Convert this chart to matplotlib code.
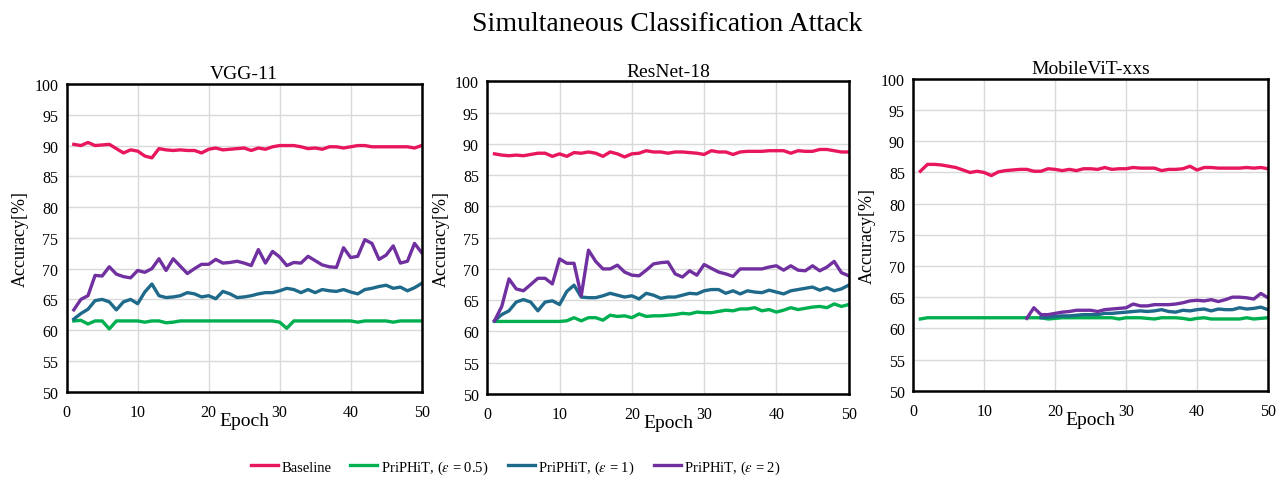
import numpy as np
import matplotlib
matplotlib.use("Agg")
import matplotlib.pyplot as plt

plt.rcParams['font.family'] = ['Liberation Serif', 'DejaVu Serif']
plt.rcParams['mathtext.fontset'] = 'stix'

epochs = np.arange(1, 51)
nan = np.nan

# VGG-11
vgg_base = [90.2, 90.0, 90.5, 90.0, 90.1, 90.2, 89.5, 88.8, 89.3, 89.1,
            88.3, 88.0, 89.5, 89.3, 89.2, 89.3, 89.2, 89.2, 88.8, 89.4,
            89.6, 89.3, 89.4, 89.5, 89.6, 89.2, 89.6, 89.4, 89.8, 90.0,
            90.0, 90.0, 89.8, 89.5, 89.6, 89.4, 89.8, 89.8, 89.6, 89.8,
            90.0, 90.0, 89.8, 89.8, 89.8, 89.8, 89.8, 89.8, 89.6, 90.0]
vgg_e05 = [61.5, 61.6, 61.0, 61.5, 61.5, 60.2, 61.5, 61.5, 61.5, 61.5,
           61.3, 61.5, 61.5, 61.2, 61.3, 61.5, 61.5, 61.5, 61.5, 61.5,
           61.5, 61.5, 61.5, 61.5, 61.5, 61.5, 61.5, 61.5, 61.5, 61.3,
           60.3, 61.5, 61.5, 61.5, 61.5, 61.5, 61.5, 61.5, 61.5, 61.5,
           61.3, 61.5, 61.5, 61.5, 61.5, 61.3, 61.5, 61.5, 61.5, 61.5]
vgg_e1 = [61.8, 62.7, 63.4, 64.8, 65.0, 64.6, 63.3, 64.6, 65.0, 64.3,
          66.2, 67.5, 65.6, 65.3, 65.4, 65.6, 66.1, 65.9, 65.4, 65.6,
          65.1, 66.3, 65.9, 65.3, 65.4, 65.6, 65.9, 66.1, 66.1, 66.4,
          66.8, 66.6, 66.1, 66.6, 66.1, 66.6, 66.4, 66.3, 66.6, 66.2,
          65.9, 66.6, 66.8, 67.1, 67.3, 66.8, 67.0, 66.4, 66.9, 67.6]
vgg_e2 = [63.3, 65.0, 65.6, 68.9, 68.8, 70.3, 69.1, 68.7, 68.5, 69.7,
          69.4, 70.0, 71.6, 69.7, 71.6, 70.4, 69.2, 70.0, 70.7, 70.7,
          71.5, 70.9, 71.0, 71.2, 70.9, 70.5, 73.1, 70.9, 72.8, 71.9,
          70.5, 71.0, 70.9, 72.0, 71.3, 70.6, 70.3, 70.2, 73.4, 71.8,
          72.0, 74.7, 74.1, 71.5, 72.2, 73.7, 70.9, 71.2, 74.1, 72.6]

# ResNet-18
res_base = [88.4, 88.2, 88.1, 88.2, 88.1, 88.3, 88.5, 88.5, 88.0, 88.4,
            88.0, 88.6, 88.5, 88.7, 88.5, 88.0, 88.7, 88.4, 87.9, 88.4,
            88.5, 88.9, 88.7, 88.7, 88.5, 88.7, 88.7, 88.6, 88.5, 88.3,
            88.9, 88.7, 88.7, 88.3, 88.7, 88.8, 88.8, 88.8, 88.9, 88.9,
            88.9, 88.5, 88.9, 88.8, 88.8, 89.1, 89.1, 88.9, 88.7, 88.7]
res_e05 = [61.6, 61.6, 61.6, 61.6, 61.6, 61.6, 61.6, 61.6, 61.6, 61.6,
           61.7, 62.2, 61.7, 62.2, 62.2, 61.8, 62.6, 62.4, 62.5, 62.2,
           62.8, 62.4, 62.5, 62.5, 62.6, 62.7, 62.9, 62.8, 63.1, 63.0,
           63.0, 63.2, 63.4, 63.3, 63.6, 63.6, 63.8, 63.3, 63.5, 63.1,
           63.4, 63.8, 63.5, 63.7, 63.9, 64.0, 63.8, 64.4, 64.0, 64.3]
res_e1 = [61.7, 62.7, 63.3, 64.7, 65.1, 64.7, 63.3, 64.7, 64.9, 64.3,
          66.4, 67.4, 65.5, 65.4, 65.4, 65.7, 66.1, 65.8, 65.5, 65.7,
          65.2, 66.1, 65.8, 65.3, 65.5, 65.5, 65.8, 66.1, 66.0, 66.5,
          66.7, 66.7, 66.1, 66.5, 66.0, 66.5, 66.3, 66.2, 66.6, 66.3,
          66.0, 66.5, 66.7, 66.9, 67.1, 66.6, 67.0, 66.5, 66.8, 67.4]
res_e2 = [61.7, 64.0, 68.4, 66.8, 66.5, 67.5, 68.5, 68.5, 67.6, 71.6,
          70.9, 70.9, 65.7, 73.0, 71.2, 70.0, 70.0, 70.6, 69.5, 69.0,
          68.9, 69.8, 70.8, 71.0, 71.1, 69.2, 68.7, 69.7, 69.0, 70.7,
          70.1, 69.5, 69.2, 68.8, 70.0, 70.0, 70.0, 70.0, 70.3, 70.5,
          69.8, 70.5, 69.8, 69.7, 70.5, 69.7, 70.3, 71.2, 69.4, 68.9]

# MobileViT-xxs
mvit_base = [85.2, 86.3, 86.3, 86.2, 86.0, 85.8, 85.4, 85.0, 85.2, 85.0,
             84.5, 85.1, 85.3, 85.4, 85.5, 85.5, 85.2, 85.2, 85.6, 85.5,
             85.3, 85.5, 85.3, 85.6, 85.6, 85.5, 85.8, 85.5, 85.6, 85.6,
             85.8, 85.7, 85.7, 85.7, 85.3, 85.5, 85.5, 85.6, 86.0, 85.4,
             85.8, 85.8, 85.7, 85.7, 85.7, 85.7, 85.8, 85.7, 85.8, 85.6]
mvit_e05 = [61.5, 61.7, 61.7, 61.7, 61.7, 61.7, 61.7, 61.7, 61.7, 61.7,
            61.7, 61.7, 61.7, 61.7, 61.7, 61.7, 61.7, 61.7, 61.5, 61.6,
            61.7, 61.7, 61.7, 61.7, 61.7, 61.7, 61.7, 61.7, 61.5, 61.7,
            61.7, 61.7, 61.6, 61.5, 61.7, 61.7, 61.7, 61.6, 61.4, 61.6,
            61.7, 61.5, 61.5, 61.5, 61.5, 61.5, 61.7, 61.5, 61.6, 61.7]
mvit_e1 = [nan] * 17 + [
    61.7, 61.8, 61.9, 62.0, 62.0, 62.1, 62.2, 62.2, 62.2, 62.4,
    62.4, 62.5, 62.6, 62.7, 62.8, 62.7, 62.8, 63.0, 62.7, 62.6,
    62.9, 62.8, 63.0, 63.1, 62.8, 63.1, 63.0, 63.0, 63.3, 63.1,
    63.2, 63.4, 63.0]
mvit_e2 = [nan] * 15 + [
    61.6, 63.3, 62.2, 62.2, 62.4, 62.6, 62.7, 62.9, 62.9, 62.9,
    62.7, 63.0, 63.1, 63.2, 63.3, 63.9, 63.6, 63.6, 63.8, 63.8,
    63.8, 63.9, 64.1, 64.4, 64.5, 64.4, 64.6, 64.3, 64.6, 65.0,
    65.0, 64.9, 64.7, 65.6, 64.9]

models = ["VGG-11", "ResNet-18", "MobileViT-xxs"]
series = [
    [vgg_base, vgg_e05, vgg_e1, vgg_e2],
    [res_base, res_e05, res_e1, res_e2],
    [mvit_base, mvit_e05, mvit_e1, mvit_e2],
]
labels = ["Baseline", r"PriPHiT, ($\epsilon$ = 0.5)",
          r"PriPHiT, ($\epsilon$ = 1)", r"PriPHiT, ($\epsilon$ = 2)"]
colors = ["#e8175d", "#00b050", "#1f6a8a", "#7030a0"]

fig = plt.figure(figsize=(12.8, 4.85), dpi=100)
positions = [
    [0.0521, 0.1903, 0.2773, 0.6344],
    [0.3807, 0.1856, 0.2823, 0.6447],
    [0.7135, 0.1924, 0.2771, 0.6427],
]

for pos, name, data in zip(positions, models, series):
    ax = fig.add_axes(pos)
    for vals, lab, col in zip(data, labels, colors):
        ax.plot(epochs, vals, color=col, lw=2.4, label=lab)
    ax.set_xlim(0, 50)
    ax.set_ylim(50, 100)
    ax.set_xticks(range(0, 51, 10))
    ax.set_yticks(range(50, 101, 5))
    ax.grid(True, color="#d9d9d9", lw=1.0)
    ax.set_axisbelow(True)
    ax.tick_params(axis="y", length=0, labelsize=11.5, pad=6)
    ax.tick_params(axis="x", length=0, labelsize=11.5, pad=9)
    for sp in ax.spines.values():
        sp.set_linewidth(1.8)
        sp.set_color("black")
    ax.set_title(name, fontsize=14, pad=4)
    ax.set_ylabel("Accuracy[%]", fontsize=13, labelpad=4)
    ax.set_xlabel("Epoch", fontsize=14, labelpad=-6)

handles, labs = ax.get_legend_handles_labels()
fig.legend(handles, labs, loc="center", bbox_to_anchor=(0.403, 0.035), ncol=4,
           frameon=False, fontsize=10.5, handlelength=1.85, handletextpad=0.25,
           columnspacing=1.3)

fig.suptitle("Simultaneous Classification Attack", fontsize=20, x=0.521, y=0.975)

fig.savefig("out.png", dpi=100)
